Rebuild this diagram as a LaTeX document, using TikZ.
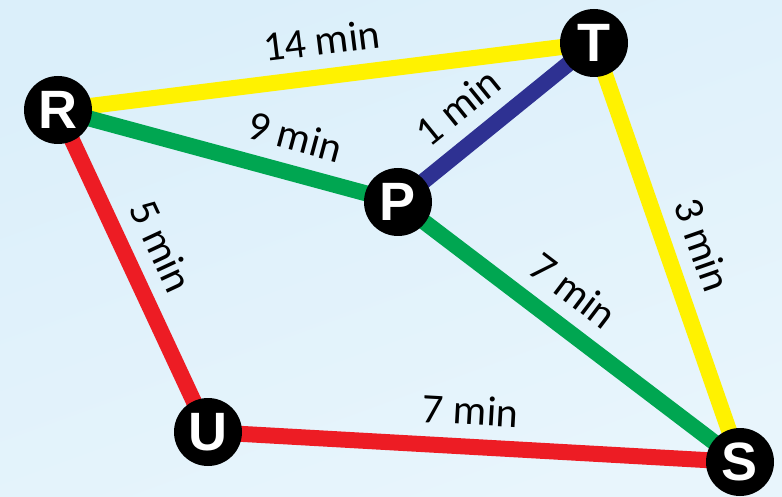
\documentclass[tikz,border=0pt]{standalone}
\usepackage{fontspec}
\setmainfont{Carlito}
\newfontfamily\stationfont{Liberation Sans}
\usepackage{tikz}
\usetikzlibrary{backgrounds}
\definecolor{roadyellow}{HTML}{FFF200}
\definecolor{roadgreen}{HTML}{00A651}
\definecolor{roadred}{HTML}{ED1C24}
\definecolor{roadblue}{HTML}{2E3192}
\definecolor{skytop}{HTML}{DBEFFA}
\definecolor{skylow}{HTML}{E8F5FC}

\begin{document}
\begin{tikzpicture}[x=1pt, y=-1pt, every node/.style={font=\fontsize{42}{42}\selectfont}]
\tikzstyle{station}=[circle, fill=black, text=white, minimum size=68pt, inner sep=0pt, font=\stationfont\bfseries\fontsize{54}{54}\selectfont]
\tikzstyle{road}=[line width=16pt]
\tikzstyle{lbl}=[sloped, above, inner sep=14pt, text=black]
\useasboundingbox (0,0) rectangle (782,497);
\node[station] (R) at (58,110) {R};
\node[station] (T) at (594,43) {T};
\node[station] (P) at (398,202) {P};
\node[station] (U) at (208,432) {U};
\node[station] (S) at (740,462) {S};
\begin{scope}[on background layer]
\shade[top color=skytop, bottom color=skylow, shading angle=20] (0,0) rectangle (782,497);
\draw[road, roadyellow] (R.center) -- node[lbl, pos=0.5] {14 min} (T.center);
\draw[road, roadgreen] (R.center) -- node[lbl, pos=0.67] {9 min} (P.center);
\draw[road, roadblue] (P.center) -- node[lbl, pos=0.42] {1 min} (T.center);
\draw[road, roadyellow] (T.center) -- node[lbl, pos=0.51] {3 min} (S.center);
\draw[road, roadgreen] (P.center) -- node[lbl, pos=0.45] {7 min} (S.center);
\draw[road, roadred] (R.center) -- node[lbl, pos=0.47] {5 min} (U.center);
\draw[road, roadred] (U.center) -- node[lbl, pos=0.49] {7 min} (S.center);
\end{scope}
\end{tikzpicture}
\end{document}
